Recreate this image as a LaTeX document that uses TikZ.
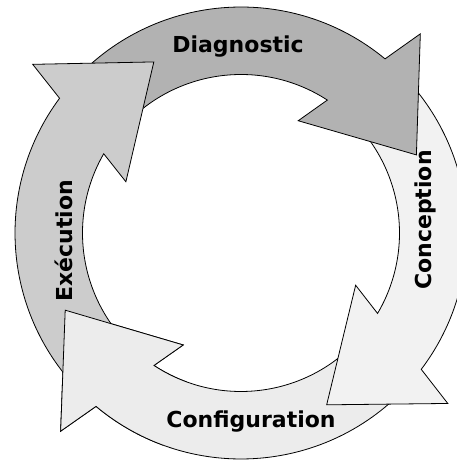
\documentclass[tikz,border=0pt]{standalone}
\usepackage{fontspec}
\setmainfont{DejaVu Sans}
\usetikzlibrary{calc}

\definecolor{diagcol}{gray}{0.70}
\definecolor{conccol}{gray}{0.95}
\definecolor{confcol}{gray}{0.925}
\definecolor{execcol}{gray}{0.80}

\tikzset{
  stage/.style={draw=black, line width=0.8pt, line join=miter},
  stagetext/.style={font=\fontsize{22}{26}\selectfont\bfseries, anchor=base, inner sep=0pt}
}

\begin{document}
\begin{tikzpicture}[x=1pt,y=1pt]
  \useasboundingbox (-241,-228) rectangle (215,233);

  % Configuration
  \draw [stage, fill = confcol] (-43.5:226) arc [start angle=-43.5, end angle=-129.9, radius=226] -- (-132.3:268) -- (-156.3:192) -- (-117.3:126) -- (-123.3:158.5) arc [start angle=-123.3, end angle=-43.5, radius=158.5] -- cycle;

  % Conception
  \draw [stage, fill = conccol] (44:226) arc [start angle=44, end angle=-37.1, radius=226] -- (-39.5:268) -- (-63.5:192) -- (-24.5:126) -- (-30.5:158.5) arc [start angle=-30.5, end angle=44, radius=158.5] -- cycle;

  % Diagnostic
  \draw [stage, fill = diagcol] (137:226) arc [start angle=137, end angle=50.4, radius=226] -- (48:268) -- (24:192) -- (63:126) -- (57:158.5) arc [start angle=57, end angle=137, radius=158.5] -- cycle;

  % Execution
  \draw [stage, fill = execcol] (223.7:226) arc [start angle=223.7, end angle=143.4, radius=226] -- (141:268) -- (117:192) -- (156:126) -- (150:158.5) arc [start angle=150, end angle=223.7, radius=158.5] -- cycle;

  % Configuration head again, over the tail of Execution
  \begin{scope}
    \clip (0,0) -- (195:500) -- (250:500) -- cycle;
    \draw [stage, fill = confcol] (-43.5:226) arc [start angle=-43.5, end angle=-129.9, radius=226] -- (-132.3:268) -- (-156.3:192) -- (-117.3:126) -- (-123.3:158.5) arc [start angle=-123.3, end angle=-43.5, radius=158.5] -- cycle;
  \end{scope}

  \node [stagetext] (diag) at (-3,180) {Diagnostic};
  \node [stagetext, rotate=90] (conc) at (190,13) {Conception};
  \node [stagetext] (conf) at (10,-194) {Configuration};
  \node [stagetext, rotate=90] (exec) at (-168,-8) {Exécution};
\end{tikzpicture}
\end{document}
